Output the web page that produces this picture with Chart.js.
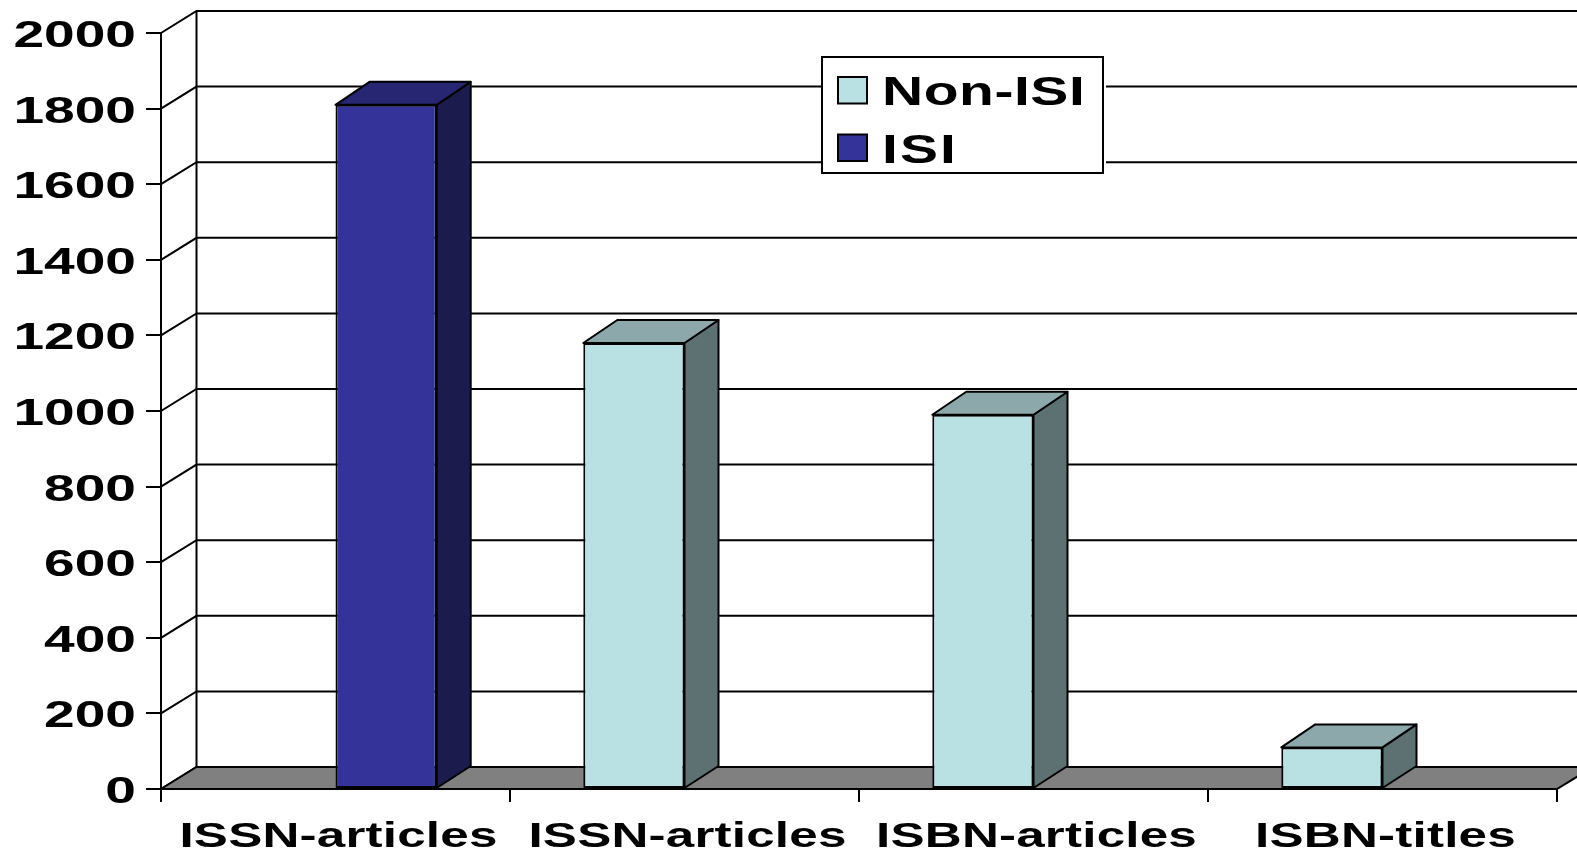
<!DOCTYPE html>
<html>
<head>
<meta charset="utf-8">
<style>
  html, body { margin: 0; padding: 0; background: #fff; overflow: hidden; }
  canvas { display: block; }
</style>
<script src="https://cdn.jsdelivr.net/npm/chart.js@4"></script>
</head>
<body>
<canvas id="myChart" width="1577" height="852"></canvas>
<script>
const categories = ["ISSN-articles", "ISSN-articles", "ISBN-articles", "ISBN-titles"];
const nonIsi = [null, 1180, 990, 110];
const isi = [1810, null, null, null];
const yTicks = [0, 200, 400, 600, 800, 1000, 1200, 1400, 1600, 1800, 2000];

const depthX = 34;
const depthY = 22;
const depthTop = 23;
const fontName = '"Liberation Sans", Arial, sans-serif';

// the source picture is a stretched image, so all text is widened by hand
function wideText(ctx, text, x, y, size, stretch, align, spacing) {
  ctx.save();
  ctx.font = 'bold ' + size + 'px ' + fontName;
  ctx.letterSpacing = (spacing || 0) + 'px';
  ctx.fillStyle = '#000';
  ctx.textBaseline = 'alphabetic';
  ctx.textAlign = 'left';
  const w = ctx.measureText(text).width * stretch;
  let left = x;
  if (align === 'right') left = x - w;
  if (align === 'center') left = x - w / 2;
  ctx.translate(left, y);
  ctx.scale(stretch, 1);
  ctx.fillText(text, 0, 0);
  ctx.restore();
}

function poly(ctx, pts, fill) {
  ctx.beginPath();
  ctx.moveTo(pts[0][0], pts[0][1]);
  for (let i = 1; i < pts.length; i++) ctx.lineTo(pts[i][0], pts[i][1]);
  ctx.closePath();
  if (fill) {
    ctx.fillStyle = fill;
    ctx.fill();
  }
  ctx.stroke();
}

const walls = {
  id: 'walls',
  beforeDraw(chart) {
    const ctx = chart.ctx;
    const a = chart.chartArea;
    const y = chart.scales.y;
    const base = y.getPixelForValue(0);
    const backX = a.left + depthX + 1.5;
    ctx.save();
    ctx.strokeStyle = '#000';
    ctx.lineWidth = 2;
    yTicks.forEach(v => {
      const py = y.getPixelForValue(v);
      ctx.beginPath();
      ctx.moveTo(a.left, py);
      ctx.lineTo(backX, py - depthY);
      ctx.lineTo(a.right + depthX + 2, py - depthY);
      ctx.stroke();
    });
    ctx.beginPath();
    ctx.moveTo(backX, y.getPixelForValue(2000) - depthY);
    ctx.lineTo(backX, base - depthY);
    ctx.stroke();
    poly(ctx, [[a.left, base], [a.right, base], [a.right + depthX + 2, base - depthY], [backX, base - depthY]], '#808080');
    ctx.restore();
  }
};

const sides = {
  id: 'sides',
  afterDatasetsDraw(chart) {
    const ctx = chart.ctx;
    ctx.save();
    ctx.strokeStyle = '#000';
    ctx.lineWidth = 2;
    ctx.lineJoin = 'round';
    chart.data.datasets.forEach((ds, d) => {
      chart.getDatasetMeta(d).data.forEach((bar, i) => {
        if (ds.data[i] === null) return;
        const p = bar.getProps(['x', 'y', 'base', 'width'], true);
        const l = p.x - p.width / 2;
        const r = p.x + p.width / 2;
        poly(ctx, [[r, p.y], [r, p.base], [r + depthX, p.base - depthY], [r + depthX, p.y - depthTop]], ds.sideColor);
        poly(ctx, [[l, p.y], [r, p.y], [r + depthX, p.y - depthTop], [l + depthX, p.y - depthTop]], ds.topColor);
      });
    });
    ctx.restore();
  }
};

const labelsAndLegend = {
  id: 'labelsAndLegend',
  afterDraw(chart) {
    const ctx = chart.ctx;
    const x = chart.scales.x;
    const y = chart.scales.y;
    yTicks.forEach(v => {
      wideText(ctx, String(v), 136, y.getPixelForValue(v) + 14, 36, 1.53, 'right');
    });
    categories.forEach((c, i) => {
      wideText(ctx, c, x.getPixelForTick(i) + 3, 846.5, 35, 1.46, 'center', 0.15);
    });

    // legend, listed Non-ISI first like the bars
    ctx.save();
    ctx.fillStyle = '#fff';
    ctx.fillRect(822, 57, 284, 116);
    ctx.strokeStyle = '#000';
    ctx.lineWidth = 2;
    ctx.strokeRect(822, 57, 281, 116);
    const rows = [[77, 105], [134.5, 162.5]];
    chart.data.datasets.forEach((ds, d) => {
      ctx.fillStyle = ds.backgroundColor;
      ctx.fillRect(838, rows[d][0], 29, 26.5);
      ctx.strokeRect(838, rows[d][0], 29, 26.5);
      wideText(ctx, ds.label, 882, rows[d][1], 41, 1.39, 'left', d === 0 ? 0.4 : 1.5);
    });
    ctx.restore();
  }
};

const config = {
  type: 'bar',
  data: {
    labels: categories,
    datasets: [
      {
        label: 'Non-ISI',
        data: nonIsi,
        backgroundColor: 'rgb(185, 224, 227)',
        topColor: 'rgb(140, 168, 170)',
        sideColor: 'rgb(93, 112, 114)',
        borderColor: '#000',
        borderWidth: 2,
        borderSkipped: false
      },
      {
        label: 'ISI',
        data: isi,
        backgroundColor: 'rgb(51, 51, 153)',
        topColor: 'rgb(38, 38, 115)',
        sideColor: 'rgb(27, 27, 77)',
        borderColor: '#000',
        borderWidth: 2,
        borderSkipped: false
      }
    ]
  },
  options: {
    responsive: false,
    animation: false,
    events: [],
    layout: {
      padding: { left: 161, right: 20, top: 33, bottom: 63 }
    },
    datasets: {
      bar: { barPercentage: 1, categoryPercentage: 0.58 }
    },
    plugins: {
      legend: { display: false },
      title: { display: false },
      tooltip: { enabled: false }
    },
    scales: {
      x: {
        afterFit(s) { s.height = 0; },
        ticks: { display: false },
        border: { color: '#000', width: 2 },
        grid: { drawOnChartArea: false, color: '#000', lineWidth: 2, tickLength: 13 }
      },
      y: {
        min: 0,
        max: 2000,
        afterFit(s) { s.width = 0; },
        ticks: { display: false, stepSize: 200 },
        border: { color: '#000', width: 2 },
        grid: { drawOnChartArea: false, color: '#000', lineWidth: 2, tickLength: 15 }
      }
    }
  },
  plugins: [walls, sides, labelsAndLegend]
};

const myChart = new Chart(document.getElementById('myChart'), config);
</script>
</body>
</html>
